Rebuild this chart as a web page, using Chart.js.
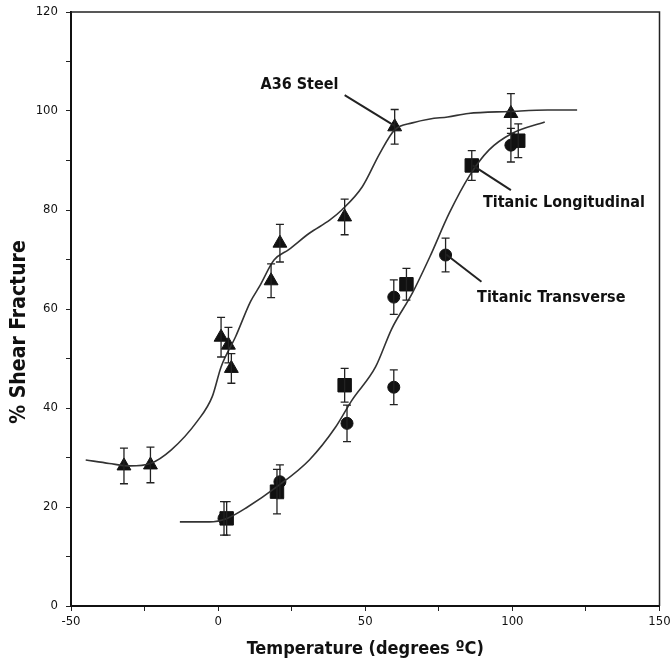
<!DOCTYPE html>
<html>
<head>
<meta charset="utf-8">
<script src="https://cdn.jsdelivr.net/npm/chart.js@4.4.0/dist/chart.umd.min.js"></script>
<style>
  html, body { margin: 0; padding: 0; background: #fff; }
</style>
</head>
<body>
<canvas id="myChart" width="670" height="666"></canvas>
<script>
// A36 Steel (triangles)
const a36Temp  = [-32, -23, 1, 3.5, 4.5, 18, 21, 43, 60, 99.5];
const a36Shear = [28.3, 28.5, 54.3, 52.7, 48, 65.7, 73.3, 78.6, 96.8, 99.5];
const a36Err   = [3.6, 3.6, 4, 3.6, 3, 3.4, 3.8, 3.6, 3.5, 4];

// Titanic Longitudinal (squares)
const longTemp  = [2.9, 20, 43, 64, 86.2, 102];
const longShear = [17.7, 23.1, 44.6, 65, 89, 94];
const longErr   = [3.4, 4.5, 3.4, 3.2, 3, 3.4];

// Titanic Transverse (circles)
const tranTemp  = [2, 21, 43.8, 59.7, 59.7, 77.3, 99.5];
const tranShear = [17.7, 25.1, 36.9, 44.2, 62.4, 70.9, 93.1];
const tranErr   = [3.4, 3.4, 3.7, 3.5, 3.5, 3.4, 3.4];

// fitted curves
const a36CurveX = [-45, -37, -30, -23, -16, -7, -2, 1, 6, 11, 14, 19, 24, 31, 38, 42, 49, 55, 60, 66, 72, 78, 85, 99, 112, 122];
const a36CurveY = [29.5, 28.8, 28.3, 28.8, 31.5, 37.4, 42.3, 48.3, 54.5, 61.5, 64.5, 69.9, 72, 75.3, 78, 80, 84.7, 91.5, 96.2, 97.6, 98.4, 98.8, 99.5, 99.9, 100.2, 100.2];
const titCurveX = [-13, -3, 3, 10, 20, 31, 40, 45.5, 53.5, 59, 66, 72, 78.5, 85.5, 92, 100, 111];
const titCurveY = [17, 17, 17.7, 20, 24.1, 29.5, 36.2, 41.6, 48.3, 56, 63.2, 70.6, 79.3, 87, 92.1, 95.5, 97.8];

// tick labels
const xTickLabels = { "-50": "-50", "0": "0", "50": "50", "100": "100", "150": "150" };
const yTickLabels = { "0": "0", "20": "20", "40": "40", "60": "60", "80": "80", "100": "100", "120": "120" };

const FONT = "'Liberation Sans Narrow', 'DejaVu Sans Condensed', Arial, sans-serif";

function pts(xs, ys, es) {
  return xs.map((x, i) => ({ x: x, y: ys[i], e: es ? es[i] : 0 }));
}

// labels with pointer lines (data coords)
const notes = [
  { text: "A36 Steel", x: 14.4, y: 105.3, from: [43, 103.2], to: [60, 97] },
  { text: "Titanic Longitudinal", x: 90, y: 81.4, from: [99.5, 84], to: [86.5, 89] },
  { text: "Titanic Transverse", x: 88, y: 62.2, from: [89.5, 65.5], to: [77.5, 71] },
];

const extras = {
  id: "extras",
  afterDatasetsDraw(chart) {
    const ctx = chart.ctx;
    const xs = chart.scales.x, ys = chart.scales.y;
    const a = chart.chartArea;
    ctx.save();
    // error bars
    ctx.strokeStyle = "#222";
    ctx.lineWidth = 1.3;
    chart.data.datasets.forEach((ds) => {
      if (!ds.errorBars) return;
      ds.data.forEach((p) => {
        const px = xs.getPixelForValue(p.x);
        const y1 = ys.getPixelForValue(p.y - p.e);
        const y2 = ys.getPixelForValue(p.y + p.e);
        ctx.beginPath();
        ctx.moveTo(px, y1); ctx.lineTo(px, y2);
        ctx.moveTo(px - 4, y1); ctx.lineTo(px + 4, y1);
        ctx.moveTo(px - 4, y2); ctx.lineTo(px + 4, y2);
        ctx.stroke();
      });
    });
    // pointer lines and labels
    ctx.lineWidth = 2;
    ctx.fillStyle = "#111";
    ctx.font = "bold 16px " + FONT;
    ctx.textBaseline = "middle";
    notes.forEach((n) => {
      ctx.beginPath();
      ctx.moveTo(xs.getPixelForValue(n.from[0]), ys.getPixelForValue(n.from[1]));
      ctx.lineTo(xs.getPixelForValue(n.to[0]), ys.getPixelForValue(n.to[1]));
      ctx.stroke();
      ctx.fillText(n.text, xs.getPixelForValue(n.x), ys.getPixelForValue(n.y));
    });
    // top and right frame
    ctx.strokeStyle = "#222";
    ctx.lineWidth = 1.5;
    ctx.beginPath();
    ctx.moveTo(a.left, a.top); ctx.lineTo(a.right, a.top); ctx.lineTo(a.right, a.bottom);
    ctx.stroke();
    // y axis title, sits a little below the middle as in the original
    ctx.translate(20, 332);
    ctx.rotate(-Math.PI / 2);
    ctx.textAlign = "center";
    ctx.font = "bold 21px " + FONT;
    ctx.fillText("% Shear Fracture", 0, 0);
    ctx.restore();
  },
};

const config = {
  type: "scatter",
  data: {
    datasets: [
      {
        label: "A36 curve",
        data: pts(a36CurveX, a36CurveY),
        showLine: true,
        borderColor: "#333",
        borderWidth: 1.6,
        pointRadius: 0,
        cubicInterpolationMode: "monotone",
      },
      {
        label: "Titanic curve",
        data: pts(titCurveX, titCurveY),
        showLine: true,
        borderColor: "#333",
        borderWidth: 1.6,
        pointRadius: 0,
        cubicInterpolationMode: "monotone",
      },
      {
        label: "A36 Steel",
        data: pts(a36Temp, a36Shear, a36Err),
        errorBars: true,
        pointStyle: "triangle",
        pointRadius: 8,
        backgroundColor: "#111",
        borderColor: "#111",
      },
      {
        label: "Titanic Longitudinal",
        data: pts(longTemp, longShear, longErr),
        errorBars: true,
        pointStyle: "rect",
        pointRadius: 9.5,
        backgroundColor: "#111",
        borderColor: "#111",
      },
      {
        label: "Titanic Transverse",
        data: pts(tranTemp, tranShear, tranErr),
        errorBars: true,
        pointStyle: "circle",
        pointRadius: 6,
        backgroundColor: "#111",
        borderColor: "#111",
      },
    ],
  },
  options: {
    responsive: false,
    animation: false,
    layout: { padding: { top: 12, right: 10, left: 0, bottom: 0 } },
    plugins: { legend: { display: false }, tooltip: { enabled: false } },
    scales: {
      x: {
        type: "linear",
        min: -50,
        max: 150,
        afterFit: (s) => { s.height = 60; s.paddingLeft = 0; s.paddingRight = 0; },
        ticks: {
          stepSize: 25,
          color: "#111",
          font: { family: FONT, size: 13 },
          maxRotation: 0,
          autoSkip: false,
          padding: 3,
          callback: (v) => xTickLabels[String(v)] || "",
        },
        grid: { drawOnChartArea: false, drawTicks: true, tickLength: 5, color: "#222" },
        border: { display: true, color: "#111", width: 2 },
        title: {
          display: true,
          text: "Temperature (degrees \u00baC)",
          color: "#111",
          font: { family: FONT, size: 18, weight: "bold" },
          padding: { top: 2, bottom: 6 },
        },
      },
      y: {
        min: 0,
        max: 120,
        afterFit: (s) => { s.width = 71; s.paddingTop = 0; s.paddingBottom = 0; },
        ticks: {
          stepSize: 10,
          color: "#111",
          font: { family: FONT, size: 13 },
          autoSkip: false,
          padding: 8,
          callback: (v) => yTickLabels[String(v)] || "",
        },
        grid: { drawOnChartArea: false, drawTicks: true, tickLength: 5, color: "#222" },
        border: { display: true, color: "#111", width: 2 },
      },
    },
  },
  plugins: [extras],
};

var myChart = new Chart(document.getElementById("myChart"), config);
</script>
</body>
</html>
